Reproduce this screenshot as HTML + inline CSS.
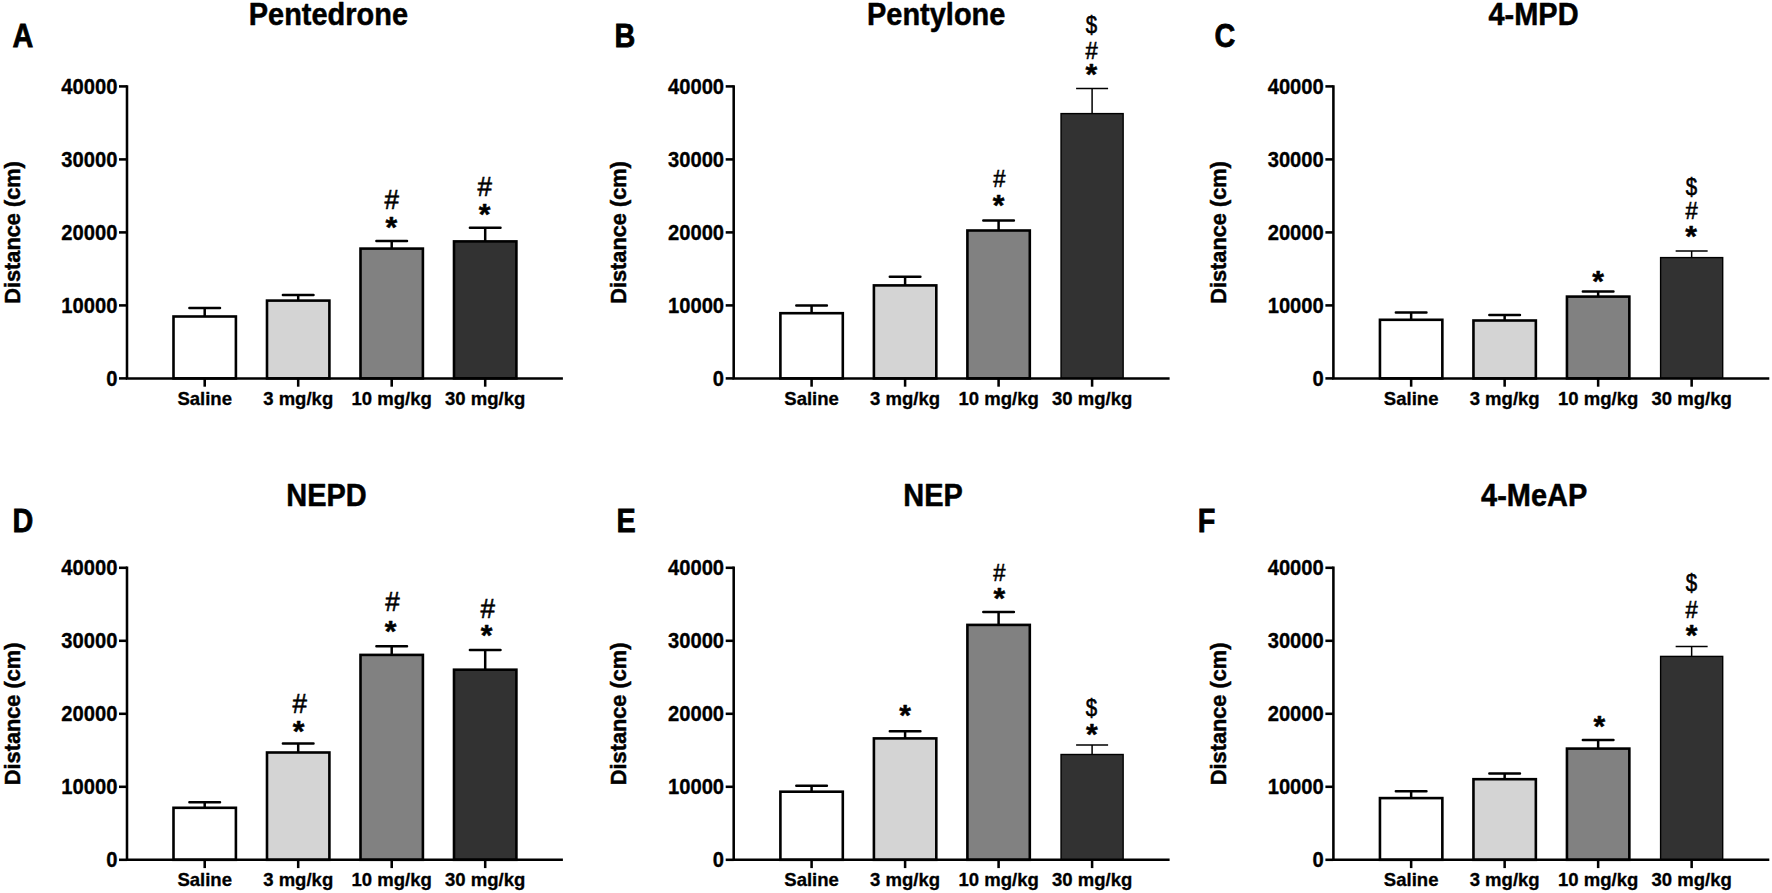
<!DOCTYPE html>
<html lang="en">
<head>
<meta charset="utf-8">
<title>Locomotor activity: distance travelled</title>
<style>
html,body{margin:0;padding:0;background:#fff;}
body{width:1772px;height:893px;overflow:hidden;}
svg{display:block;}
text{font-family:"Liberation Sans", Arial, Helvetica, sans-serif;fill:#000;}
.b{font-weight:bold;}
.yl,.tt{stroke:#000;stroke-width:0.45px;stroke-linejoin:round;}
.tl,.xl{stroke:#000;stroke-width:0.3px;stroke-linejoin:round;}
.pl{stroke:#000;stroke-width:0.75px;stroke-linejoin:miter;}
.sy{stroke:#000;stroke-width:0.55px;}
.st{font-weight:bold;stroke:#000;stroke-width:0.5px;stroke-linejoin:round;}
.ax{stroke:#000;stroke-width:2.55;fill:none;stroke-linecap:butt;}
.bar{stroke:#000;stroke-width:2.6;}
.bt{stroke-width:1.4;}
.eb{stroke:#000;stroke-width:2.5;stroke-linecap:round;fill:none;}
.ebt{stroke:#000;stroke-width:1.5;stroke-linecap:butt;fill:none;}
.tl{font-size:20px;font-weight:bold;text-anchor:end;}
.xl{font-size:18px;font-weight:bold;text-anchor:middle;}
.yl{font-size:21.5px;font-weight:bold;text-anchor:middle;}
.tt{font-size:28.5px;font-weight:bold;text-anchor:middle;}
.pl{font-size:32px;font-weight:bold;}
</style>
</head>
<body>
<svg width="1772" height="893" viewBox="0 0 1772 893">
<rect width="1772" height="893" fill="#fff"/>
<g>
<text class="tt" transform="translate(328.4 24.5) scale(1.016 1.08)">Pentedrone</text>
<text class="pl" transform="translate(12.48 47) scale(0.9 1.035)">A</text>
<text class="yl" transform="translate(19.6 232.5) rotate(-90) scale(1.012 1.065)">Distance (cm)</text>
<path class="eb" d="M204.7 316.5V307.9M189.4 307.9H220"/>
<rect class="bar" x="173.5" y="316.5" width="62.4" height="61.9" fill="#ffffff"/>
<path class="eb" d="M298.2 300.6V294.9M282.9 294.9H313.5"/>
<rect class="bar" x="267" y="300.6" width="62.4" height="77.8" fill="#d4d4d4"/>
<path class="eb" d="M391.7 248.6V241M376.4 241H407"/>
<rect class="bar" x="360.5" y="248.6" width="62.4" height="129.8" fill="#818181"/>
<path class="eb" d="M485.2 241.4V227.7M469.9 227.7H500.5"/>
<rect class="bar" x="454" y="241.4" width="62.4" height="137" fill="#323232"/>
<path class="ax" d="M127 85.13V378.4H562.9"/>
<path class="ax" d="M119 378.4H127"/>
<text class="tl" transform="translate(117.4 385.9) scale(1.01 1.07)">0</text>
<path class="ax" d="M119 305.4H127"/>
<text class="tl" transform="translate(117.4 312.9) scale(1.01 1.07)">10000</text>
<path class="ax" d="M119 232.4H127"/>
<text class="tl" transform="translate(117.4 239.9) scale(1.01 1.07)">20000</text>
<path class="ax" d="M119 159.4H127"/>
<text class="tl" transform="translate(117.4 166.9) scale(1.01 1.07)">30000</text>
<path class="ax" d="M119 86.4H127"/>
<text class="tl" transform="translate(117.4 93.9) scale(1.01 1.07)">40000</text>
<path class="ax" d="M204.7 378.4V386.7"/>
<text class="xl" transform="translate(204.7 404.9) scale(1.03 1.06)">Saline</text>
<path class="ax" d="M298.2 378.4V386.7"/>
<text class="xl" transform="translate(298.2 404.9) scale(1.03 1.06)">3 mg/kg</text>
<path class="ax" d="M391.7 378.4V386.7"/>
<text class="xl" transform="translate(391.7 404.9) scale(1.03 1.06)">10 mg/kg</text>
<path class="ax" d="M485.2 378.4V386.7"/>
<text class="xl" transform="translate(485.2 404.9) scale(1.03 1.06)">30 mg/kg</text>
<text class="sy" transform="translate(384.49 208.94) scale(1 1.05)" font-size="26">#</text>
<text class="st" transform="translate(385.44 236.66) scale(1 1)" font-size="30">*</text>
<text class="sy" transform="translate(477.59 195.74) scale(1 1.05)" font-size="26">#</text>
<text class="st" transform="translate(478.63 223.76) scale(1 1)" font-size="30">*</text>
</g>
<g>
<text class="tt" transform="translate(936.2 24.5) scale(1.016 1.08)">Pentylone</text>
<text class="pl" transform="translate(614.47 47) scale(0.9 1.035)">B</text>
<text class="yl" transform="translate(626.3 232.5) rotate(-90) scale(1.012 1.065)">Distance (cm)</text>
<path class="eb" d="M811.6 313.2V305.4M796.3 305.4H826.9"/>
<rect class="bar" x="780.4" y="313.2" width="62.4" height="65.2" fill="#ffffff"/>
<path class="eb" d="M905.1 285.4V276.7M889.8 276.7H920.4"/>
<rect class="bar" x="873.9" y="285.4" width="62.4" height="93" fill="#d4d4d4"/>
<path class="eb" d="M998.6 230.5V220.5M983.3 220.5H1013.9"/>
<rect class="bar" x="967.4" y="230.5" width="62.4" height="147.9" fill="#818181"/>
<path class="ebt" d="M1092.1 113.6V88.4M1076.1 88.4H1108.1"/>
<rect class="bar bt" x="1061.05" y="113.6" width="62.1" height="264.8" fill="#323232"/>
<path class="ax" d="M733.7 85.13V378.4H1169.6"/>
<path class="ax" d="M725.7 378.4H733.7"/>
<text class="tl" transform="translate(724.1 385.9) scale(1.01 1.07)">0</text>
<path class="ax" d="M725.7 305.4H733.7"/>
<text class="tl" transform="translate(724.1 312.9) scale(1.01 1.07)">10000</text>
<path class="ax" d="M725.7 232.4H733.7"/>
<text class="tl" transform="translate(724.1 239.9) scale(1.01 1.07)">20000</text>
<path class="ax" d="M725.7 159.4H733.7"/>
<text class="tl" transform="translate(724.1 166.9) scale(1.01 1.07)">30000</text>
<path class="ax" d="M725.7 86.4H733.7"/>
<text class="tl" transform="translate(724.1 93.9) scale(1.01 1.07)">40000</text>
<path class="ax" d="M811.6 378.4V386.7"/>
<text class="xl" transform="translate(811.6 404.9) scale(1.03 1.06)">Saline</text>
<path class="ax" d="M905.1 378.4V386.7"/>
<text class="xl" transform="translate(905.1 404.9) scale(1.03 1.06)">3 mg/kg</text>
<path class="ax" d="M998.6 378.4V386.7"/>
<text class="xl" transform="translate(998.6 404.9) scale(1.03 1.06)">10 mg/kg</text>
<path class="ax" d="M1092.1 378.4V386.7"/>
<text class="xl" transform="translate(1092.1 404.9) scale(1.03 1.06)">30 mg/kg</text>
<text class="sy" transform="translate(993.19 187.1) scale(1 1.05)" font-size="22">#</text>
<text class="st" transform="translate(992.84 214.66) scale(1 1)" font-size="30">*</text>
<text class="sy" transform="translate(1085.76 33.02) scale(0.93 1.1)" font-size="22">$</text>
<text class="sy" transform="translate(1085.39 58.9) scale(1 1.05)" font-size="22">#</text>
<text class="st" transform="translate(1085.54 84.46) scale(1 1)" font-size="30">*</text>
</g>
<g>
<text class="tt" transform="translate(1533.5 24.5) scale(1.016 1.08)">4-MPD</text>
<text class="pl" transform="translate(1214.47 47) scale(0.9 1.035)">C</text>
<text class="yl" transform="translate(1226 232.5) rotate(-90) scale(1.012 1.065)">Distance (cm)</text>
<path class="eb" d="M1411.15 319.8V312.6M1395.85 312.6H1426.45"/>
<rect class="bar" x="1379.95" y="319.8" width="62.4" height="58.6" fill="#ffffff"/>
<path class="eb" d="M1504.65 320.5V315.1M1489.35 315.1H1519.95"/>
<rect class="bar" x="1473.45" y="320.5" width="62.4" height="57.9" fill="#d4d4d4"/>
<path class="eb" d="M1598.15 296.6V291.5M1582.85 291.5H1613.45"/>
<rect class="bar" x="1566.95" y="296.6" width="62.4" height="81.8" fill="#818181"/>
<path class="ebt" d="M1691.65 257.6V251.1M1675.65 251.1H1707.65"/>
<rect class="bar bt" x="1660.6" y="257.6" width="62.1" height="120.8" fill="#323232"/>
<path class="ax" d="M1333.4 85.13V378.4H1769.3"/>
<path class="ax" d="M1325.4 378.4H1333.4"/>
<text class="tl" transform="translate(1323.8 385.9) scale(1.01 1.07)">0</text>
<path class="ax" d="M1325.4 305.4H1333.4"/>
<text class="tl" transform="translate(1323.8 312.9) scale(1.01 1.07)">10000</text>
<path class="ax" d="M1325.4 232.4H1333.4"/>
<text class="tl" transform="translate(1323.8 239.9) scale(1.01 1.07)">20000</text>
<path class="ax" d="M1325.4 159.4H1333.4"/>
<text class="tl" transform="translate(1323.8 166.9) scale(1.01 1.07)">30000</text>
<path class="ax" d="M1325.4 86.4H1333.4"/>
<text class="tl" transform="translate(1323.8 93.9) scale(1.01 1.07)">40000</text>
<path class="ax" d="M1411.15 378.4V386.7"/>
<text class="xl" transform="translate(1411.15 404.9) scale(1.03 1.06)">Saline</text>
<path class="ax" d="M1504.65 378.4V386.7"/>
<text class="xl" transform="translate(1504.65 404.9) scale(1.03 1.06)">3 mg/kg</text>
<path class="ax" d="M1598.15 378.4V386.7"/>
<text class="xl" transform="translate(1598.15 404.9) scale(1.03 1.06)">10 mg/kg</text>
<path class="ax" d="M1691.65 378.4V386.7"/>
<text class="xl" transform="translate(1691.65 404.9) scale(1.03 1.06)">30 mg/kg</text>
<text class="st" transform="translate(1592.34 291.06) scale(1 1)" font-size="30">*</text>
<text class="sy" transform="translate(1685.76 195.32) scale(0.93 1.1)" font-size="22">$</text>
<text class="sy" transform="translate(1685.39 218.9) scale(1 1.05)" font-size="22">#</text>
<text class="st" transform="translate(1685.13 245.96) scale(1 1)" font-size="30">*</text>
</g>
<g>
<text class="tt" transform="translate(326.5 505.7) scale(1.016 1.08)">NEPD</text>
<text class="pl" transform="translate(12.57 531.6) scale(0.9 1.035)">D</text>
<text class="yl" transform="translate(19.6 713.9) rotate(-90) scale(1.012 1.065)">Distance (cm)</text>
<path class="eb" d="M204.7 807.8V802.3M189.4 802.3H220"/>
<rect class="bar" x="173.5" y="807.8" width="62.4" height="52" fill="#ffffff"/>
<path class="eb" d="M298.2 752.5V743.5M282.9 743.5H313.5"/>
<rect class="bar" x="267" y="752.5" width="62.4" height="107.3" fill="#d4d4d4"/>
<path class="eb" d="M391.7 654.9V646.2M376.4 646.2H407"/>
<rect class="bar" x="360.5" y="654.9" width="62.4" height="204.9" fill="#818181"/>
<path class="eb" d="M485.2 669.7V649.9M469.9 649.9H500.5"/>
<rect class="bar" x="454" y="669.7" width="62.4" height="190.1" fill="#323232"/>
<path class="ax" d="M127 566.53V859.8H562.9"/>
<path class="ax" d="M119 859.8H127"/>
<text class="tl" transform="translate(117.4 867.3) scale(1.01 1.07)">0</text>
<path class="ax" d="M119 786.8H127"/>
<text class="tl" transform="translate(117.4 794.3) scale(1.01 1.07)">10000</text>
<path class="ax" d="M119 713.8H127"/>
<text class="tl" transform="translate(117.4 721.3) scale(1.01 1.07)">20000</text>
<path class="ax" d="M119 640.8H127"/>
<text class="tl" transform="translate(117.4 648.3) scale(1.01 1.07)">30000</text>
<path class="ax" d="M119 567.8H127"/>
<text class="tl" transform="translate(117.4 575.3) scale(1.01 1.07)">40000</text>
<path class="ax" d="M204.7 859.8V868.1"/>
<text class="xl" transform="translate(204.7 886.3) scale(1.03 1.06)">Saline</text>
<path class="ax" d="M298.2 859.8V868.1"/>
<text class="xl" transform="translate(298.2 886.3) scale(1.03 1.06)">3 mg/kg</text>
<path class="ax" d="M391.7 859.8V868.1"/>
<text class="xl" transform="translate(391.7 886.3) scale(1.03 1.06)">10 mg/kg</text>
<path class="ax" d="M485.2 859.8V868.1"/>
<text class="xl" transform="translate(485.2 886.3) scale(1.03 1.06)">30 mg/kg</text>
<text class="sy" transform="translate(292.39 712.84) scale(1 1.05)" font-size="26">#</text>
<text class="st" transform="translate(292.83 740.66) scale(1 1)" font-size="30">*</text>
<text class="sy" transform="translate(385.29 610.84) scale(1 1.05)" font-size="26">#</text>
<text class="st" transform="translate(384.83 640.86) scale(1 1)" font-size="30">*</text>
<text class="sy" transform="translate(480.39 618.24) scale(1 1.05)" font-size="26">#</text>
<text class="st" transform="translate(480.83 645.46) scale(1 1)" font-size="30">*</text>
</g>
<g>
<text class="tt" transform="translate(933.1 505.7) scale(1.016 1.08)">NEP</text>
<text class="pl" transform="translate(616.47 531.6) scale(0.9 1.035)">E</text>
<text class="yl" transform="translate(626.3 713.9) rotate(-90) scale(1.012 1.065)">Distance (cm)</text>
<path class="eb" d="M811.6 791.7V785.7M796.3 785.7H826.9"/>
<rect class="bar" x="780.4" y="791.7" width="62.4" height="68.1" fill="#ffffff"/>
<path class="eb" d="M905.1 738.4V731.3M889.8 731.3H920.4"/>
<rect class="bar" x="873.9" y="738.4" width="62.4" height="121.4" fill="#d4d4d4"/>
<path class="eb" d="M998.6 624.9V612M983.3 612H1013.9"/>
<rect class="bar" x="967.4" y="624.9" width="62.4" height="234.9" fill="#818181"/>
<path class="ebt" d="M1092.1 754.5V745M1076.1 745H1108.1"/>
<rect class="bar bt" x="1061.05" y="754.5" width="62.1" height="105.3" fill="#323232"/>
<path class="ax" d="M733.7 566.53V859.8H1169.6"/>
<path class="ax" d="M725.7 859.8H733.7"/>
<text class="tl" transform="translate(724.1 867.3) scale(1.01 1.07)">0</text>
<path class="ax" d="M725.7 786.8H733.7"/>
<text class="tl" transform="translate(724.1 794.3) scale(1.01 1.07)">10000</text>
<path class="ax" d="M725.7 713.8H733.7"/>
<text class="tl" transform="translate(724.1 721.3) scale(1.01 1.07)">20000</text>
<path class="ax" d="M725.7 640.8H733.7"/>
<text class="tl" transform="translate(724.1 648.3) scale(1.01 1.07)">30000</text>
<path class="ax" d="M725.7 567.8H733.7"/>
<text class="tl" transform="translate(724.1 575.3) scale(1.01 1.07)">40000</text>
<path class="ax" d="M811.6 859.8V868.1"/>
<text class="xl" transform="translate(811.6 886.3) scale(1.03 1.06)">Saline</text>
<path class="ax" d="M905.1 859.8V868.1"/>
<text class="xl" transform="translate(905.1 886.3) scale(1.03 1.06)">3 mg/kg</text>
<path class="ax" d="M998.6 859.8V868.1"/>
<text class="xl" transform="translate(998.6 886.3) scale(1.03 1.06)">10 mg/kg</text>
<path class="ax" d="M1092.1 859.8V868.1"/>
<text class="xl" transform="translate(1092.1 886.3) scale(1.03 1.06)">30 mg/kg</text>
<text class="st" transform="translate(899.13 724.76) scale(1 1)" font-size="30">*</text>
<text class="sy" transform="translate(993.19 581.4) scale(1 1.05)" font-size="22">#</text>
<text class="st" transform="translate(993.43 608.36) scale(1 1)" font-size="30">*</text>
<text class="sy" transform="translate(1085.86 715.62) scale(0.93 1.1)" font-size="22">$</text>
<text class="st" transform="translate(1085.93 743.66) scale(1 1)" font-size="30">*</text>
</g>
<g>
<text class="tt" transform="translate(1534.2 505.7) scale(1.016 1.08)">4-MeAP</text>
<text class="pl" transform="translate(1197.77 531.6) scale(0.9 1.035)">F</text>
<text class="yl" transform="translate(1226 713.9) rotate(-90) scale(1.012 1.065)">Distance (cm)</text>
<path class="eb" d="M1411.15 798.1V791.3M1395.85 791.3H1426.45"/>
<rect class="bar" x="1379.95" y="798.1" width="62.4" height="61.7" fill="#ffffff"/>
<path class="eb" d="M1504.65 779.2V773.5M1489.35 773.5H1519.95"/>
<rect class="bar" x="1473.45" y="779.2" width="62.4" height="80.6" fill="#d4d4d4"/>
<path class="eb" d="M1598.15 748.6V740M1582.85 740H1613.45"/>
<rect class="bar" x="1566.95" y="748.6" width="62.4" height="111.2" fill="#818181"/>
<path class="ebt" d="M1691.65 656.4V646.6M1675.65 646.6H1707.65"/>
<rect class="bar bt" x="1660.6" y="656.4" width="62.1" height="203.4" fill="#323232"/>
<path class="ax" d="M1333.4 566.53V859.8H1769.3"/>
<path class="ax" d="M1325.4 859.8H1333.4"/>
<text class="tl" transform="translate(1323.8 867.3) scale(1.01 1.07)">0</text>
<path class="ax" d="M1325.4 786.8H1333.4"/>
<text class="tl" transform="translate(1323.8 794.3) scale(1.01 1.07)">10000</text>
<path class="ax" d="M1325.4 713.8H1333.4"/>
<text class="tl" transform="translate(1323.8 721.3) scale(1.01 1.07)">20000</text>
<path class="ax" d="M1325.4 640.8H1333.4"/>
<text class="tl" transform="translate(1323.8 648.3) scale(1.01 1.07)">30000</text>
<path class="ax" d="M1325.4 567.8H1333.4"/>
<text class="tl" transform="translate(1323.8 575.3) scale(1.01 1.07)">40000</text>
<path class="ax" d="M1411.15 859.8V868.1"/>
<text class="xl" transform="translate(1411.15 886.3) scale(1.03 1.06)">Saline</text>
<path class="ax" d="M1504.65 859.8V868.1"/>
<text class="xl" transform="translate(1504.65 886.3) scale(1.03 1.06)">3 mg/kg</text>
<path class="ax" d="M1598.15 859.8V868.1"/>
<text class="xl" transform="translate(1598.15 886.3) scale(1.03 1.06)">10 mg/kg</text>
<path class="ax" d="M1691.65 859.8V868.1"/>
<text class="xl" transform="translate(1691.65 886.3) scale(1.03 1.06)">30 mg/kg</text>
<text class="st" transform="translate(1593.54 735.86) scale(1 1)" font-size="30">*</text>
<text class="sy" transform="translate(1685.76 590.82) scale(0.93 1.1)" font-size="22">$</text>
<text class="sy" transform="translate(1685.39 618.3) scale(1 1.05)" font-size="22">#</text>
<text class="st" transform="translate(1685.73 645.46) scale(1 1)" font-size="30">*</text>
</g>
</svg>
</body>
</html>
